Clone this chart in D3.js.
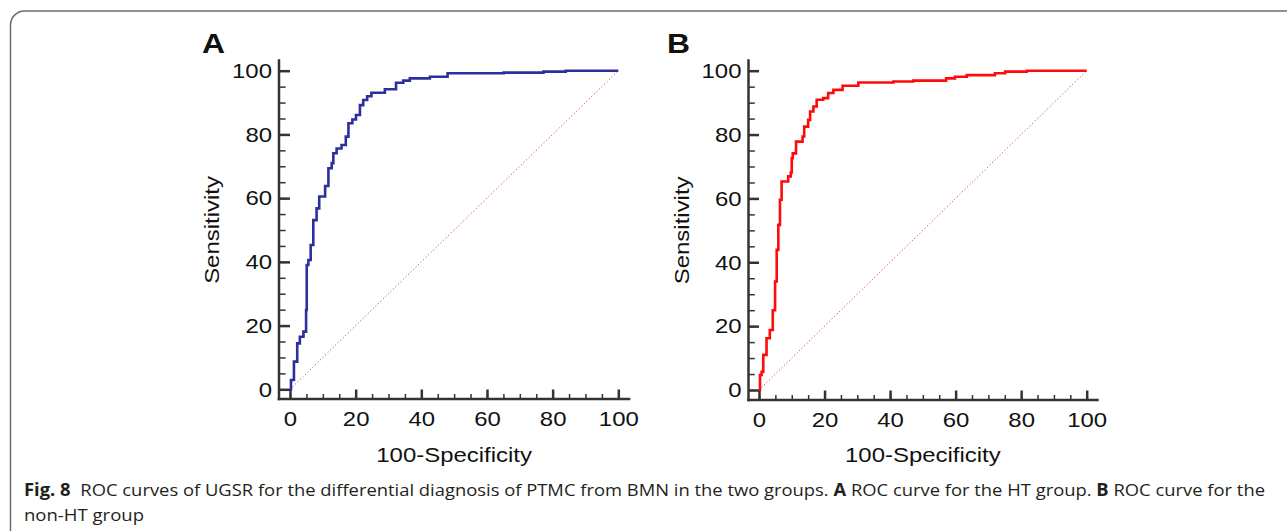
<!DOCTYPE html>
<html lang="en">
<head>
<meta charset="UTF-8">
<title>ROC curves of UGSR</title>
<script src="https://d3js.org/d3.v7.min.js"></script>
<style>
    body { margin: 0; background: #fff; }
    svg { display: block; }
    .tick text, .lbl { font-family: "Liberation Sans", Arial, sans-serif; fill: #111; }
    .cap { font-family: "Open Sans", sans-serif; font-size: 17px; fill: #231f20; }
</style>
</head>
<body>
<svg id="canvas" width="1287" height="531"></svg>
<script>
// ROC points: 100-specificity (x) where sensitivity rises to (y)
let fprA = [0, 0.3, 1.2, 2.2, 3.0, 4.1, 4.9, 5.1, 5.6, 6.3, 7.1, 8.1, 8.9, 10.7, 11.7, 12.7, 13.2, 14.2, 15.7, 17.0, 17.8, 19.0, 20.1, 21.3, 22.3, 23.5, 24.8, 28.9, 32.3, 34.5, 36.5, 42.6, 48.0, 65.1, 77.2, 84.0, 100];
let tprA = [0, 2.9, 8.7, 14.4, 16.5, 18.1, 24.9, 39.0, 40.6, 45.3, 53.1, 56.8, 60.5, 63.8, 69.4, 71.0, 74.1, 75.6, 76.7, 79.3, 83.5, 84.7, 86.1, 89.2, 90.8, 92.0, 93.1, 94.2, 96.2, 96.9, 97.6, 98.1, 99.2, 99.4, 99.7, 100, 100];

let fprB = [0, 0.3, 0.8, 1.3, 2.3, 3.3, 4.2, 4.9, 5.4, 5.9, 6.4, 6.9, 8.9, 9.7, 10.0, 10.3, 11.3, 13.3, 13.8, 15.0, 15.6, 16.6, 17.6, 19.6, 21.1, 22.7, 25.5, 30.3, 41.0, 47.1, 57.1, 59.8, 63.4, 72.0, 75.1, 81.7, 100];
let tprB = [0, 4.7, 5.7, 11.0, 16.2, 18.8, 25.0, 34.0, 43.9, 51.7, 59.6, 65.3, 66.9, 68.1, 72.6, 74.1, 77.8, 79.4, 82.5, 84.6, 87.2, 88.8, 90.9, 91.4, 93.0, 94.0, 95.3, 96.3, 96.6, 96.9, 97.6, 98.1, 98.6, 99.2, 99.7, 100, 100];

let majorTicks = [0, 20, 40, 60, 80, 100];
let minorTicks = [0, 5, 10, 15, 20, 25, 30, 35, 40, 45, 50, 55, 60, 65, 70, 75, 80, 85, 90, 95, 100];
let chance = [[0, 0], [100, 100]];

let xTitle = "100-Specificity";
let yTitle = "Sensitivity";

let panels = [
    {label: "A", fpr: fprA, tpr: tprA, color: "#2e2f9c", x0: 290, x1: 618.3, y0: 389.3, y1: 70.7, axX: 279, axY: 399, lx: 202},
    {label: "B", fpr: fprB, tpr: tprB, color: "#ff0a0a", x0: 759, x1: 1086.7, y0: 390, y1: 70.7, axX: 748.5, axY: 400, lx: 667}
];

let svg = d3.select("#canvas");

// the figure's lettering is a little wider than Arial
function stretch(sel, k) {
    sel.each(function () {
        let w = this.getComputedTextLength();
        this.setAttribute("textLength", w * k);
        this.setAttribute("lengthAdjust", "spacingAndGlyphs");
    });
}

// frame of the figure
svg.append("path")
    .attr("d", "M10.5,531 V25 A14,14 0 0 1 24.5,11 H1287")
    .attr("fill", "none")
    .attr("stroke", "#6d6d6d")
    .attr("stroke-width", 1.5);

panels.forEach(function (p) {
    let g = svg.append("g");
    let x = d3.scaleLinear().domain([0, 100]).range([p.x0, p.x1]);
    let y = d3.scaleLinear().domain([0, 100]).range([p.y0, p.y1]);

    // minor ticks
    g.append("g")
        .attr("transform", `translate(${p.axX},0)`)
        .call(d3.axisLeft(y).tickValues(minorTicks).tickSize(-(p.x0 - p.axX) * 0.6).tickFormat(""))
        .call(a => a.select(".domain").remove())
        .selectAll("line").attr("stroke", "#333").attr("stroke-width", 1.5);
    g.append("g")
        .attr("transform", `translate(0,${p.axY})`)
        .call(d3.axisBottom(x).tickValues(minorTicks).tickSize(-5).tickFormat(""))
        .call(a => a.select(".domain").remove())
        .selectAll("line").attr("stroke", "#333").attr("stroke-width", 1.5);

    // major ticks + labels
    let yAx = g.append("g")
        .attr("transform", `translate(${p.axX},0)`)
        .call(d3.axisLeft(y).tickValues(majorTicks).tickSize(-(p.x0 - p.axX)).tickPadding(7))
        .call(a => a.select(".domain").remove());
    yAx.selectAll("line").attr("stroke", "#333").attr("stroke-width", 2.5);
    yAx.selectAll("text").attr("font-size", 21).attr("font-family", null);

    let xAx = g.append("g")
        .attr("transform", `translate(0,${p.axY})`)
        .call(d3.axisBottom(x).tickValues(majorTicks).tickSize(-9.5).tickPadding(12))
        .call(a => a.select(".domain").remove());
    xAx.selectAll("line").attr("stroke", "#333").attr("stroke-width", 2.5);
    xAx.selectAll("text").attr("font-size", 21).attr("font-family", null);

    stretch(yAx.selectAll("text"), 1.14);
    stretch(xAx.selectAll("text"), 1.14);

    // axis lines
    g.append("line")
        .attr("x1", p.axX).attr("x2", p.axX)
        .attr("y1", y(100) - 11.5).attr("y2", p.axY + 1.25)
        .attr("stroke", "#333").attr("stroke-width", 2.5);
    g.append("line")
        .attr("x1", p.axX - 1.25).attr("x2", x(100) + 12)
        .attr("y1", p.axY).attr("y2", p.axY)
        .attr("stroke", "#333").attr("stroke-width", 2.5);

    // chance diagonal
    g.append("path")
        .datum(chance)
        .attr("d", d3.line().x(d => x(d[0])).y(d => y(d[1])))
        .attr("fill", "none")
        .attr("stroke", "#c8504e")
        .attr("stroke-width", 1)
        .attr("stroke-dasharray", "1.2,2.3");

    // ROC curve
    let pts = p.fpr.map((v, i) => [v, p.tpr[i]]);
    g.append("path")
        .datum(pts)
        .attr("d", d3.line().x(d => x(d[0])).y(d => y(d[1])).curve(d3.curveStepAfter))
        .attr("fill", "none")
        .attr("stroke", p.color)
        .attr("stroke-width", 2.6)
        .attr("stroke-linejoin", "miter");

    // titles
    let t1 = g.append("text").attr("class", "lbl")
        .attr("x", (x(0) + x(100)) / 2).attr("y", 461.5)
        .attr("text-anchor", "middle").attr("font-size", 21)
        .text(xTitle);
    let t2 = g.append("text").attr("class", "lbl")
        .attr("transform", `translate(${p.axX - 60},${(y(0) + y(100)) / 2}) rotate(-90)`)
        .attr("text-anchor", "middle").attr("font-size", 21)
        .text(yTitle);
    stretch(t1, 1.14);
    stretch(t2, 1.14);

    let lab = g.append("text").attr("class", "lbl")
        .attr("x", p.lx).attr("y", 52.5)
        .attr("font-size", 27).attr("font-weight", "bold")
        .text(p.label);
    stretch(lab, 1.18);
});

// caption
let cap1 = svg.append("text").attr("class", "cap").attr("x", 24).attr("y", 496);
cap1.append("tspan").attr("font-weight", "bold").text("Fig. 8");
cap1.append("tspan").attr("dx", 9).text("ROC curves of UGSR for the differential diagnosis of PTMC from BMN in the two groups. ");
cap1.append("tspan").attr("font-weight", "bold").text("A");
cap1.append("tspan").text(" ROC curve for the HT group. ");
cap1.append("tspan").attr("font-weight", "bold").text("B");
cap1.append("tspan").text(" ROC curve for the");

let cap2 = svg.append("text").attr("class", "cap").attr("x", 24).attr("y", 521).text("non-HT group");

let natural = cap1.node().getComputedTextLength();
let k = 1241 / natural;
cap1.attr("textLength", 1241).attr("lengthAdjust", "spacingAndGlyphs");
stretch(cap2, k);
</script>
</body>
</html>
